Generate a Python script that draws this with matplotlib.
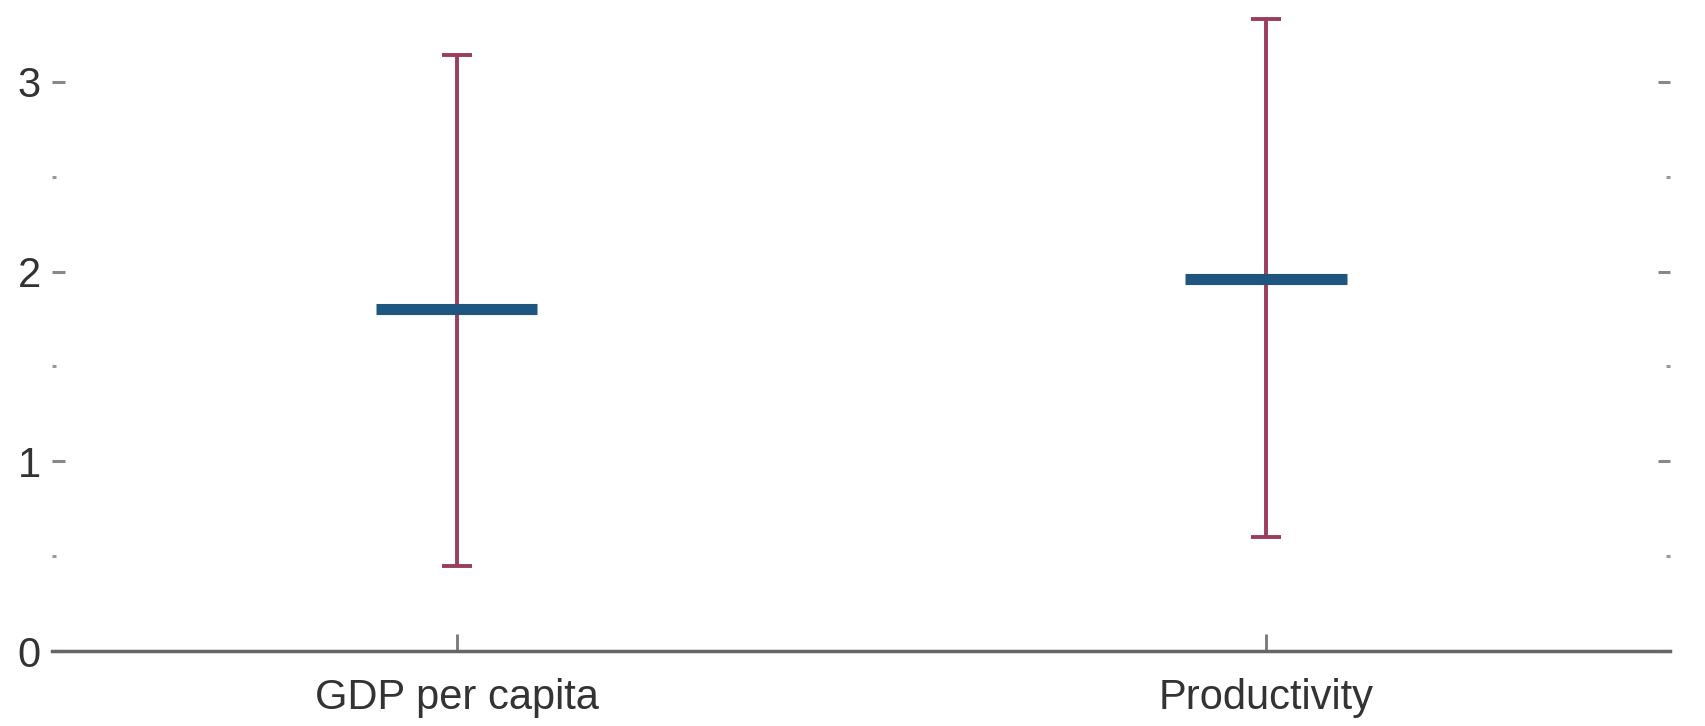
import matplotlib
matplotlib.use("Agg")
import matplotlib.pyplot as plt
from matplotlib.ticker import MultipleLocator

categories = ["GDP per capita", "Productivity"]
estimates = [1.80, 1.96]
lower = [0.45, 0.60]
upper = [3.14, 3.33]

plt.rcParams['font.family'] = ['Liberation Sans Narrow', 'Liberation Sans', 'DejaVu Sans']

fig = plt.figure(figsize=(17.06, 7.26), dpi=100)
ax = fig.add_axes([0.0305, 0.103, 0.9485, 0.897])

x = list(range(len(categories)))
err_lo = [e - l for e, l in zip(estimates, lower)]
err_hi = [u - e for e, u in zip(estimates, upper)]

# confidence range
ax.errorbar(x, estimates, yerr=[err_lo, err_hi], fmt="none",
            ecolor="#9b3d5c", elinewidth=2.8, capsize=11, capthick=2.8, zorder=2)
# point estimate
ax.hlines(estimates, [i - 0.1 for i in x], [i + 0.1 for i in x],
          colors="#1f5680", linewidth=8, zorder=3)

ax.set_xlim(-0.5, 1.5)
ax.set_ylim(0, 3.43)
ax.set_xticks(x)
ax.set_xticklabels(categories)
ax.yaxis.set_major_locator(MultipleLocator(1))
ax.yaxis.set_minor_locator(MultipleLocator(0.5))

for side in ["top", "left", "right"]:
    ax.spines[side].set_visible(False)
ax.spines["bottom"].set_color("#666666")
ax.spines["bottom"].set_linewidth(2.5)

ax.tick_params(axis="y", which="major", direction="in", length=9, width=2.2,
               color="#888888", left=True, right=True, labelsize=30,
               labelcolor="#333333", pad=8)
ax.tick_params(axis="y", which="minor", direction="in", length=3, width=2.2,
               color="#999999", left=True, right=True)
ax.tick_params(axis="x", direction="in", length=12, width=2, color="#777777",
               labelsize=30, labelcolor="#333333", pad=19)

fig.savefig("out.png", dpi=100)
